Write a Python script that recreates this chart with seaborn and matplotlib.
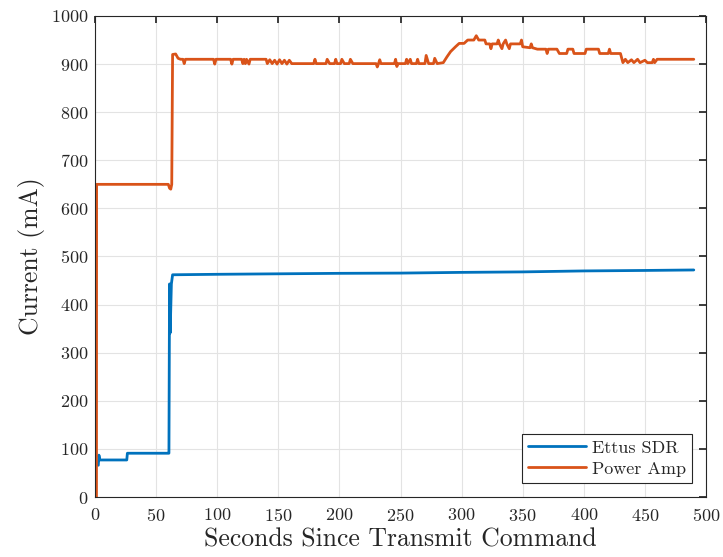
import matplotlib; matplotlib.use('Agg')
import matplotlib.pyplot as plt
import seaborn as sns
import pandas as pd

# Ettus SDR current (mA) vs seconds since transmit command
SDR_T = [2.7, 3.2, 4, 26, 26.5, 60, 60.5, 61, 61.5, 62.5, 63.5,
         100, 150, 200, 250, 300, 350, 400, 450, 490]
SDR_MA = [66, 87, 77, 77, 91, 91, 91, 443, 341, 443, 462,
          463, 464, 465, 465.5, 467, 468, 470, 471, 472]

# Power amp current (mA)
PA_T = [0, 1.2, 1.3, 60, 61, 62, 62.8, 63.5, 66, 68, 70, 72, 73, 74,
        97, 98, 99, 111, 112, 113, 120, 121, 122, 123, 124, 126, 127,
        140, 141, 143, 145, 147, 149, 151, 153, 155, 157, 159, 161, 165,
        179, 180, 181, 189, 190, 192, 196, 197, 198, 201, 202, 204, 208, 209, 211,
        230, 231, 232, 233, 234, 245, 246, 247, 248, 254, 255, 256, 258, 259,
        263, 264, 265, 270, 271, 273, 277, 278, 280, 285, 288, 291, 295, 298,
        302, 305, 310, 312, 314, 319, 320, 323, 324, 325, 329, 330, 331, 333,
        334, 336, 337, 339, 340, 348, 349, 350, 356, 357, 358, 362, 369, 370,
        371, 378, 380, 386, 387, 391, 392, 401, 402, 412, 413, 420, 421, 422,
        430, 432, 434, 436, 439, 441, 444, 446, 450, 452, 456, 457, 458, 460, 490]
PA_MA = [0, 0, 650, 650, 642, 640, 650, 920, 921, 912, 910, 910, 901, 910,
         910, 900, 910, 910, 900, 910, 910, 901, 910, 901, 910, 900, 910,
         910, 901, 909, 901, 908, 900, 909, 901, 908, 900, 908, 901, 901,
         901, 910, 901, 901, 910, 901, 901, 910, 901, 901, 910, 901, 901, 910, 901,
         901, 894, 901, 909, 901, 901, 910, 895, 901, 901, 910, 901, 910, 901,
         901, 910, 901, 901, 918, 901, 901, 912, 901, 903, 915, 926, 936, 943,
         943, 950, 950, 959, 950, 950, 942, 942, 932, 942, 942, 950, 942, 932,
         942, 950, 942, 932, 942, 942, 950, 936, 934, 942, 934, 931, 931, 922,
         931, 931, 922, 922, 931, 931, 922, 922, 931, 931, 922, 922, 931, 922,
         922, 903, 910, 903, 909, 903, 910, 903, 908, 903, 903, 910, 903, 910, 910]

BLUE, ORANGE = '#0072BD', '#D95319'

sns.set_theme(style='whitegrid')
plt.rcParams.update({
    'font.family': ['cmr10', 'DejaVu Serif'],
    'axes.formatter.use_mathtext': True,
    'axes.edgecolor': '#262626', 'axes.linewidth': 0.8,
    'grid.color': '#E3E3E3', 'grid.linewidth': 0.8,
    'xtick.direction': 'in', 'ytick.direction': 'in',
    'xtick.top': True, 'ytick.right': True,
    'xtick.major.size': 5, 'ytick.major.size': 5,
    'xtick.color': '#262626', 'ytick.color': '#262626',
})

sdr = pd.DataFrame({'t': SDR_T, 'mA': SDR_MA})
pa = pd.DataFrame({'t': PA_T, 'mA': PA_MA})

fig = plt.figure(figsize=(7.23, 5.57), dpi=100)
ax = fig.add_axes([0.1314, 0.1077, 0.8451, 0.8636])
sns.lineplot(data=sdr, x='t', y='mA', ax=ax, color=BLUE, lw=2.0,
             estimator=None, sort=False, label='Ettus SDR')
sns.lineplot(data=pa, x='t', y='mA', ax=ax, color=ORANGE, lw=2.0,
             estimator=None, sort=False, label='Power Amp')

ax.set_xlim(0, 500); ax.set_ylim(0, 1000)
ax.set_xticks(range(0, 501, 50)); ax.set_yticks(range(0, 1001, 100))
ax.tick_params(axis='x', labelsize=13, pad=7)
ax.tick_params(axis='y', labelsize=13, pad=5)
ax.set_xlabel('Seconds Since Transmit Command', fontsize=18.5, labelpad=3)
ax.set_ylabel('Current (mA)', fontsize=18.5, labelpad=4)
for s in ax.spines.values(): s.set_visible(True); s.set_color('#262626')

leg = ax.legend(loc='lower right', bbox_to_anchor=(0.977, 0.029), fontsize=13,
                handlelength=3.2, frameon=True, fancybox=False, borderaxespad=0,
                borderpad=0.35, labelspacing=0.3, handletextpad=0.3)
leg.get_frame().set_edgecolor('#262626'); leg.get_frame().set_linewidth(0.8)
leg.get_frame().set_alpha(1)

plt.savefig('out.png', dpi=100)
